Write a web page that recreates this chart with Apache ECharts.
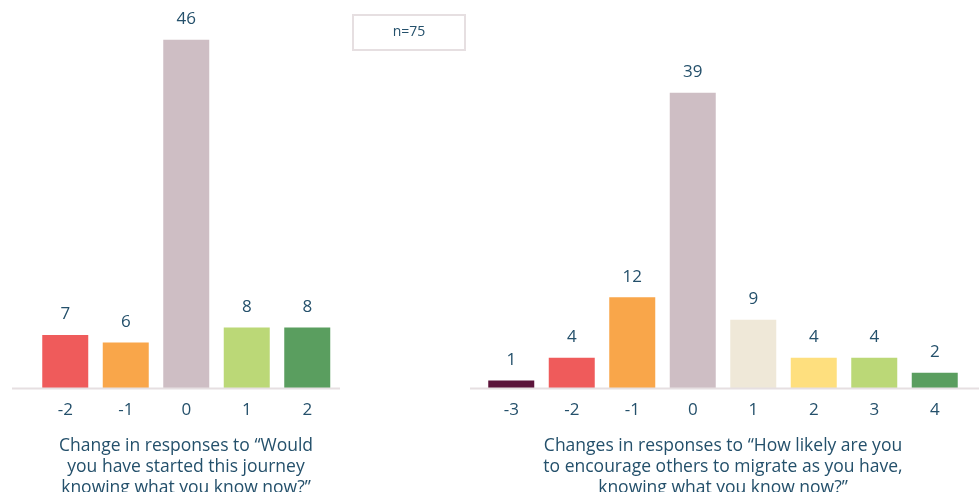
<!DOCTYPE html>
<html><head><meta charset="utf-8">
<script src="https://cdn.jsdelivr.net/npm/echarts@6/dist/echarts.min.js"></script>
<style>html,body{margin:0;padding:0;background:#fff}#c{width:979px;height:492px}</style>
</head><body><div id="c"></div>
<script>
var leftCategories = ['-2', '-1', '0', '1', '2'];
var leftValues = [7, 6, 46, 8, 8];
var rightCategories = ['-3', '-2', '-1', '0', '1', '2', '3', '4'];
var rightValues = [1, 4, 12, 39, 9, 4, 4, 2];
var leftTitle = 'Change in responses to \u201cWould\nyou have started this journey\nknowing what you know now?\u201d';
var rightTitle = 'Changes in responses to \u201cHow likely are you\nto encourage others to migrate as you have,\nknowing what you know now?\u201d';
var sampleText = 'n=75';

var leftColors = ['#EF5B5B', '#F9A64A', '#CEBEC4', '#BBD877', '#5A9E5F'];
var rightColors = ['#5C133A', '#EF5B5B', '#F9A64A', '#CEBEC4', '#EFE8D8', '#FEDF7E', '#BBD877', '#5A9E5F'];

var FONT = '"Open Sans"';
var TXT = '#24506B';
var LINE = '#E6DFE1';

function mkData(vals, cols) {
  return vals.map(function (v, i) { return { value: v, itemStyle: { color: cols[i] } }; });
}
var chart = echarts.init(document.getElementById('c'));
var xCommon = {
  type: 'category',
  axisLine: { show: false },
  axisTick: { show: false },
  axisLabel: { color: TXT, fontFamily: FONT, fontSize: 17, margin: 14 }
};
var yCommon = { type: 'value', min: 0, max: 50, show: false, splitLine: { show: false } };
var labelCommon = { show: true, position: 'top', distance: 12, color: TXT, fontFamily: FONT, fontSize: 17 };
chart.setOption({
  animation: false,
  grid: [
    { left: 35, width: 302.5, top: 9.5, bottom: 104 },
    { left: 481, width: 484, top: 9.5, bottom: 104 }
  ],
  xAxis: [
    Object.assign({ gridIndex: 0, data: leftCategories }, xCommon),
    Object.assign({ gridIndex: 1, data: rightCategories }, xCommon)
  ],
  yAxis: [
    Object.assign({ gridIndex: 0 }, yCommon),
    Object.assign({ gridIndex: 1 }, yCommon)
  ],
  series: [
    { type: 'bar', xAxisIndex: 0, yAxisIndex: 0, barWidth: 46, data: mkData(leftValues, leftColors), label: labelCommon },
    { type: 'bar', xAxisIndex: 1, yAxisIndex: 1, barWidth: 46, data: mkData(rightValues, rightColors), label: labelCommon }
  ],
  graphic: [
    { type: 'line', shape: { x1: 12, y1: 388.5, x2: 340, y2: 388.5 }, style: { stroke: LINE, lineWidth: 2 }, z: 10 },
    { type: 'line', shape: { x1: 470, y1: 388.5, x2: 979, y2: 388.5 }, style: { stroke: LINE, lineWidth: 2 }, z: 10 },
    { type: 'rect', shape: { x: 353, y: 15, width: 112, height: 35 }, style: { fill: '#fff', stroke: LINE, lineWidth: 2 } },
    { type: 'text', x: 409, y: 32.5, style: { text: sampleText, fill: TXT, font: '14px ' + FONT, textAlign: 'center', textVerticalAlign: 'middle' } },
    { type: 'text', x: 186, y: 435.5, style: { text: leftTitle, fill: TXT, font: '17.5px ' + FONT, textAlign: 'center', lineHeight: 21 } },
    { type: 'text', x: 723, y: 435.5, style: { text: rightTitle, fill: TXT, font: '17.5px ' + FONT, textAlign: 'center', lineHeight: 21 } }
  ]
});
</script></body></html>
